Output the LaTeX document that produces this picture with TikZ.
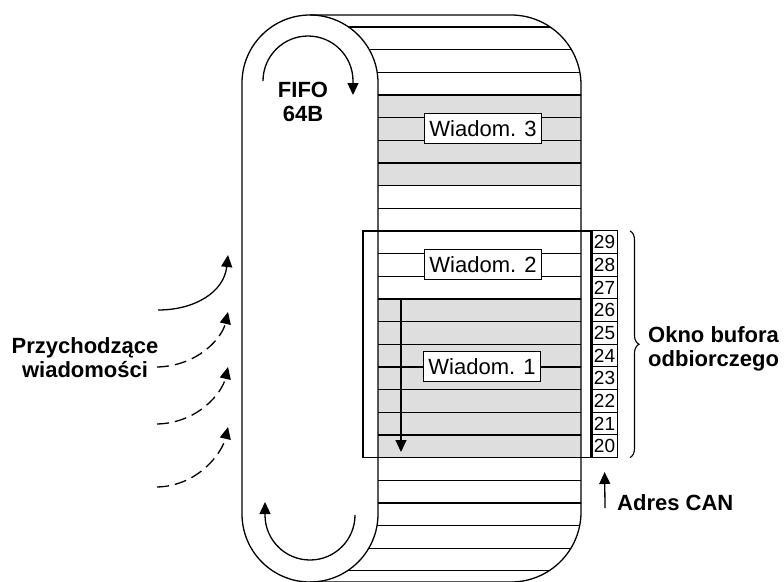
\documentclass[tikz,border=0pt]{standalone}
\usepackage{fontspec}
\setmainfont{Liberation Sans}
\usepackage{tikz}
\usetikzlibrary{arrows.meta,positioning,calc,decorations.pathreplacing}
\newcommand{\rowTop}{27}
\newcommand{\rowGap}{22.66}
\tikzset{
  bandLine/.style={
    line width=1.3pt
  },
  msgFill/.style={
    fill=black!13
  },
  msgBox/.style={
    rectangle,
    draw=black,
    fill=white,
    line width=1pt,
    minimum height=30pt,
    inner xsep=5pt,
    font=\fontsize{22}{24}\selectfont
  },
  numBox/.style={
    rectangle,
    draw=black,
    fill=white,
    line width=0.9pt,
    minimum width=25pt,
    minimum height=22.66pt,
    inner sep=0pt,
    font=\fontsize{19}{20}\selectfont
  },
  windowBox/.style={
    rectangle,
    draw=black,
    line width=1.3pt,
    minimum width=228pt,
    minimum height=226.6pt,
    inner sep=0pt
  },
  arrowTip/.style={
    -{Triangle[length=12pt,width=11pt]},
    line width=1.3pt
  },
  dashArrow/.style={
    arrowTip,
    dash pattern=on 12pt off 6pt
  },
  boldLabel/.style={
    font=\fontsize{22}{24}\selectfont\bfseries,
    align=center,
    inner sep=0pt
  }
}

\begin{document}
\begin{tikzpicture}[x=1pt,y=-1pt]
    \useasboundingbox (0,0) rectangle (784,581);

    \fill[msgFill] (378,{\rowTop+3*\rowGap}) rectangle (581,{\rowTop+7*\rowGap});
    \fill[msgFill] (378,{\rowTop+12*\rowGap}) rectangle (581,{\rowTop+19*\rowGap});

    \begin{scope}
        \clip (310,15) -- (511,15) arc[start angle=270,end angle=360,radius=70]
            -- (581,512) arc[start angle=0,end angle=90,radius=70]
            -- (310,582) arc[start angle=90,end angle=0,radius=68]
            -- (378,83) arc[start angle=0,end angle=-90,radius=68] -- cycle;
        \foreach \k in {0,...,24}
            \draw[bandLine] (240,{\rowTop+\k*\rowGap}) -- (590,{\rowTop+\k*\rowGap});
    \end{scope}

    \draw[bandLine] (310,15) -- (511,15) arc[start angle=270,end angle=360,radius=70]
        -- (581,512) arc[start angle=0,end angle=90,radius=70] -- (310,582);
    \draw[bandLine] (242,83) arc[start angle=180,end angle=360,radius=68]
        -- (378,514) arc[start angle=0,end angle=180,radius=68] -- cycle;

    \node[msgBox] (msg3) at (483,{\rowTop+4.5*\rowGap}) {Wiadom. 3};
    \node[msgBox] (msg2) at (483,{\rowTop+10.5*\rowGap}) {Wiadom. 2};
    \node[msgBox] (msg1) at (482,{\rowTop+15*\rowGap}) {Wiadom. 1};

    \coordinate (scanTop) at (401,{\rowTop+12*\rowGap});
    \coordinate (scanEnd) at (401,452);
    \draw[arrowTip] (scanTop) -- (scanEnd);

    \node[windowBox] (window) at (477,{\rowTop+14*\rowGap}) {};
    \foreach \n in {0,...,9}
        \node[numBox] (n2\n) at (604.5,{\rowTop+(18.5-\n)*\rowGap}) {2\n};

    \draw[line width=1.1pt, decorate, decoration={brace,amplitude=9pt}]
        (630,{\rowTop+9*\rowGap}) -- (630,{\rowTop+19*\rowGap});
    \node[boldLabel, anchor=west, align=left] (okno) at (648,349) {Okno bufora\\odbiorczego};

    \node[boldLabel] (fifo) at (303,102) {FIFO\\64B};
    \draw[arrowTip] (263,81) arc[start angle=180,end angle=360,radius=45] -- ++(0,14);
    \draw[arrowTip] (355,515) arc[start angle=0,end angle=180,radius=45] -- ++(0,-13);

    \node[boldLabel, anchor=west] (can) at (617,503) {Adres CAN};
    \coordinate (canFoot) at (605,508);
    \draw[arrowTip, shorten >=14pt] (canFoot) -- (n20.south);

    \node[boldLabel] (incoming) at (85,358) {Przychodzące\\wiadomości};
    \coordinate (inA) at (158,310);
    \coordinate (inAtip) at (228,255);
    \coordinate (inB) at (157,367);
    \coordinate (inBtip) at (228,312);
    \coordinate (inC) at (157,424);
    \coordinate (inCtip) at (228,367);
    \coordinate (inD) at (157,487);
    \coordinate (inDtip) at (228,427);
    \draw[arrowTip] (inA) .. controls (195,310) and (224,292) .. (inAtip);
    \draw[dashArrow] (inB) .. controls (198,366) and (222,338) .. (inBtip);
    \draw[dashArrow] (inC) .. controls (198,423) and (222,393) .. (inCtip);
    \draw[dashArrow] (inD) .. controls (198,486) and (222,453) .. (inDtip);
\end{tikzpicture}
\end{document}
